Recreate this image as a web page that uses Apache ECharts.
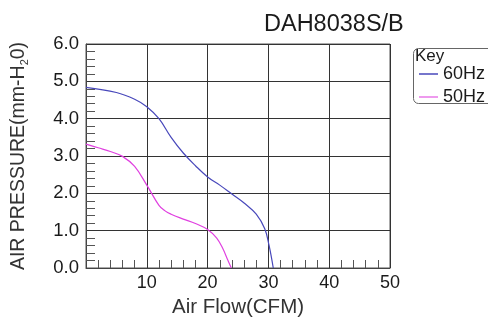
<!DOCTYPE html>
<html>
<head>
<meta charset="utf-8">
<script src="https://cdn.jsdelivr.net/npm/echarts@6/dist/echarts.min.js"></script>
<style>
html,body{margin:0;padding:0;background:#fff;}
#chart{width:488px;height:323px;}
</style>
</head>
<body>
<div id="chart"></div>
<script>
var titleText = 'DAH8038S/B';
var seriesNames = ['60Hz', '50Hz'];
var flow60 = [0, 5, 8, 10, 12, 14, 16, 18, 20, 22, 24, 26, 28, 29.4, 30.1, 30.8];
var pres60 = [4.84, 4.70, 4.52, 4.32, 4.00, 3.50, 3.08, 2.74, 2.44, 2.22, 1.98, 1.74, 1.44, 1.05, 0.61, 0.0];
var flow50 = [0, 2, 4, 6, 8, 10, 12, 13, 14, 16, 18, 20, 21.5, 22.5, 23.3, 23.9];
var pres50 = [3.32, 3.22, 3.12, 2.99, 2.72, 2.22, 1.68, 1.53, 1.44, 1.31, 1.19, 1.03, 0.80, 0.52, 0.22, 0.0];
var xTicks = [0, 10, 20, 30, 40, 50];
var yTicks = [0, 1, 2, 3, 4, 5, 6];

function pairs(xs, ys) { return xs.map(function (x, i) { return [x, ys[i]]; }); }

var FONT = '"Liberation Sans", Arial, sans-serif';
var chart = echarts.init(document.getElementById('chart'), null, {renderer: 'canvas'});
chart.setOption({
  animation: false,
  backgroundColor: '#fff',
  textStyle: {fontFamily: FONT},
  title: {
    text: titleText, left: 264, top: 13, padding: 0,
    textStyle: {fontSize: 23.5, fontWeight: 'normal', color: '#1a1a1a', fontFamily: FONT}
  },
  grid: {left: 84, right: 98, top: 44, bottom: 50, show: true, borderColor: '#555', borderWidth: 1},
  legend: {
    orient: 'vertical', left: 419, top: 65, itemGap: 5, padding: 0,
    itemWidth: 19, itemHeight: 1.5, icon: 'rect',
    textStyle: {fontSize: 18, color: '#1a1a1a', fontFamily: FONT, lineHeight: 18},
    data: seriesNames
  },
  graphic: [
    {type: 'rect', left: 411, top: 46, shape: {width: 80, height: 55, r: 5},
     style: {fill: 'none', stroke: '#666', lineWidth: 1}, z: 0},
    {type: 'text', left: 415, top: 48, style: {text: 'Key', fontSize: 17, fill: '#1a1a1a', fontFamily: FONT}, z: 1}
  ],
  xAxis: {
    type: 'value', min: xTicks[0], max: xTicks[xTicks.length - 1], interval: 10,
    name: 'Air Flow(CFM)', nameLocation: 'middle', nameGap: 29,
    nameTextStyle: {fontSize: 20.5, color: '#333', fontFamily: FONT},
    axisLine: {show: true, lineStyle: {color: '#444', width: 1}},
    axisTick: {show: true, inside: true, length: 0},
    minorTick: {show: true, splitNumber: 5, length: 8, lineStyle: {color: '#555', width: 1}},
    splitLine: {show: true, lineStyle: {color: '#333', width: 1}},
    axisLabel: {fontSize: 18, color: '#1a1a1a', margin: 6, showMinLabel: false,
      formatter: function (v) { return v === 0 ? '' : String(v); }}
  },
  yAxis: {
    type: 'value', min: yTicks[0], max: yTicks[yTicks.length - 1], interval: 1,
    name: 'AIR PRESSURE(mm-H{s|2}0)', nameLocation: 'middle', nameGap: 56,
    nameTextStyle: {fontSize: 19.5, color: '#333', fontFamily: FONT, lineHeight: 22,
      rich: {s: {fontSize: 11, verticalAlign: 'bottom', lineHeight: 22, color: '#333', fontFamily: FONT}}},
    axisLine: {show: true, lineStyle: {color: '#444', width: 1}},
    axisTick: {show: true, inside: true, length: 0},
    minorTick: {show: true, splitNumber: 5, length: 9, lineStyle: {color: '#555', width: 1}},
    splitLine: {show: true, lineStyle: {color: '#333', width: 1}},
    axisLabel: {fontSize: 18.5, color: '#1a1a1a', margin: 7,
      formatter: function (v) { return v.toFixed(1); }}
  },
  series: [
    {name: seriesNames[0], type: 'line', data: pairs(flow60, pres60), smooth: 0.4,
     showSymbol: false, lineStyle: {color: '#4848bb', width: 1.2}, itemStyle: {color: '#4848bb'}, z: 3},
    {name: seriesNames[1], type: 'line', data: pairs(flow50, pres50), smooth: 0.4,
     showSymbol: false, lineStyle: {color: '#e040e0', width: 1.2}, itemStyle: {color: '#e878e8'}, z: 3}
  ]
});
</script>
</body>
</html>
